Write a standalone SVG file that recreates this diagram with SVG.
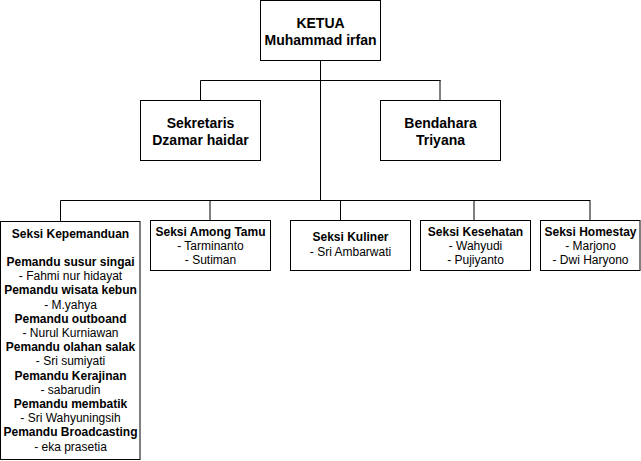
<svg xmlns="http://www.w3.org/2000/svg" width="641" height="461" viewBox="0 0 641 461">
<style>
rect.box{fill:#fff;stroke:#000;stroke-width:1}
text{font-family:"Liberation Sans",Arial,sans-serif;font-size:12px;fill:#000;text-anchor:middle}
.b{font-weight:bold}
.big{font-size:14px;font-weight:bold}
.c{fill:none;stroke:#000;stroke-width:1}
.g{fill:none;stroke:#000;stroke-width:1}
</style>
<rect width="641" height="461" fill="#fff"/>
<g id="connectors">
<path class="c" d="M320.5 60.5V200.5"/>
<path class="c" d="M200.5 100.5V80.5H440.5"/>
<path class="g" d="M440 80V100"/>
<path class="c" d="M60.5 221.5V200.5H590"/>
<path class="g" d="M210 200V220"/>
<path class="c" d="M340.5 200.5V220.5"/>
<path class="g" d="M474 200V220"/>
<path class="g" d="M590 200V220"/>
</g>
<g id="ketua">
<rect class="box" x="260.5" y="0.5" width="120" height="60"/>
<text class="big" x="320.5" y="28">KETUA</text>
<text class="big" x="320.5" y="45">Muhammad irfan</text>
</g>
<g id="sekretaris">
<rect class="box" x="140.5" y="100.5" width="120" height="60"/>
<text class="big" x="200.5" y="128">Sekretaris</text>
<text class="big" x="200.5" y="144.5">Dzamar haidar</text>
</g>
<g id="bendahara">
<rect class="box" x="380.5" y="100.5" width="120" height="60"/>
<text class="big" x="440.5" y="128">Bendahara</text>
<text class="big" x="440.5" y="144.5">Triyana</text>
</g>
<g id="kepemanduan">
<rect class="box" x="0.5" y="221.5" width="139.5" height="238"/>
<text class="b" x="70.5" y="237.5">Seksi Kepemanduan</text>
<text class="b" x="70.5" y="266">Pemandu susur singai</text>
<text x="70.5" y="280.2">- Fahmi nur hidayat</text>
<text class="b" x="70.5" y="294.4">Pemandu wisata kebun</text>
<text x="70.5" y="308.6">- M.yahya</text>
<text class="b" x="70.5" y="322.8">Pemandu outboand</text>
<text x="70.5" y="337">- Nurul Kurniawan</text>
<text class="b" x="70.5" y="351.2">Pemandu olahan salak</text>
<text x="70.5" y="365.4">- Sri sumiyati</text>
<text class="b" x="70.5" y="379.6">Pemandu Kerajinan</text>
<text x="70.5" y="393.8">- sabarudin</text>
<text class="b" x="70.5" y="408">Pemandu membatik</text>
<text x="70.5" y="422.2">- Sri Wahyuningsih</text>
<text class="b" x="70.5" y="436.4">Pemandu Broadcasting</text>
<text x="70.5" y="450.6">- eka prasetia</text>
</g>
<g id="among-tamu">
<rect class="box" x="150.5" y="220.5" width="120" height="50"/>
<text class="b" x="210.5" y="236">Seksi Among Tamu</text>
<text x="210.5" y="250.2">- Tarminanto</text>
<text x="210.5" y="264.4">- Sutiman</text>
</g>
<g id="kuliner">
<rect class="box" x="290.5" y="220.5" width="120" height="50"/>
<text class="b" x="350.5" y="241">Seksi Kuliner</text>
<text x="350.5" y="256">- Sri Ambarwati</text>
</g>
<g id="kesehatan">
<rect class="box" x="420.5" y="220.5" width="110" height="50"/>
<text class="b" x="475.5" y="236">Seksi Kesehatan</text>
<text x="475.5" y="250.2">- Wahyudi</text>
<text x="475.5" y="264.4">- Pujiyanto</text>
</g>
<g id="homestay">
<rect class="box" x="540.5" y="220.5" width="99.5" height="50"/>
<text class="b" x="590.5" y="236">Seksi Homestay</text>
<text x="590.5" y="250.2">- Marjono</text>
<text x="590.5" y="264.4">- Dwi Haryono</text>
</g>
</svg>
